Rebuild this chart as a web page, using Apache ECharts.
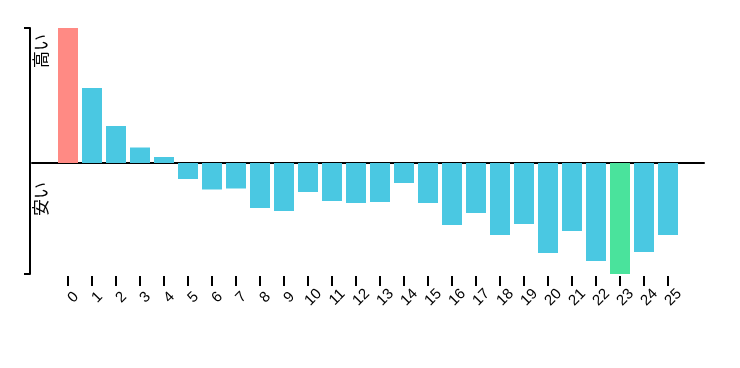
<!DOCTYPE html>
<html>
<head>
<meta charset="utf-8">
<script src="https://cdn.jsdelivr.net/npm/echarts@6/dist/echarts.min.js"></script>
<style>
html,body{margin:0;padding:0;background:#fff;}
#chart{width:740px;height:368px;}
</style>
</head>
<body>
<div id="chart"></div>
<script>
// Data
var categories = ['0','1','2','3','4','5','6','7','8','9','10','11','12','13','14','15','16','17','18','19','20','21','22','23','24','25'];
var values = [135, 75, 37, 15.5, 6, -16, -26.5, -25.5, -45, -48, -29, -38, -40, -39, -20, -40, -62, -50, -72, -61, -90, -68, -98, -111, -89, -72];
var highLabel = '高い';
var lowLabel = '安い';

var colorNormal = '#4ac8e2';
var colorHigh = '#ff8a84';
var colorLow = '#4ae39c';

var maxV = Math.max.apply(null, values);
var minV = Math.min.apply(null, values);

// one empty slot on each side of the category axis
var axisCats = [''].concat(categories).concat(['']);
var barData = [null].concat(values.map(function (v) {
  var c = v === maxV ? colorHigh : (v === minV ? colorLow : colorNormal);
  return { value: v, itemStyle: { color: c } };
})).concat([null]);

var chart = echarts.init(document.getElementById('chart'), null, { renderer: 'canvas' });
chart.setOption({
  animation: false,
  grid: { left: 32, right: 36, top: 28, bottom: 94, containLabel: false },
  xAxis: [
    {
      type: 'category',
      data: axisCats,
      position: 'bottom',
      offset: 2,
      axisLine: { show: false, onZero: false },
      axisTick: {
        show: true,
        alignWithLabel: true,
        length: 10,
        interval: function (idx) { return idx > 0 && idx < axisCats.length - 1; },
        lineStyle: { color: '#000', width: 2 }
      },
      axisLabel: {
        interval: 0,
        rotate: 45,
        align: 'center',
        verticalAlign: 'top',
        margin: 16,
        color: '#000',
        fontSize: 15,
        fontFamily: 'Liberation Sans, Arial, sans-serif'
      },
      splitLine: { show: false }
    },
    {
      type: 'category',
      data: axisCats,
      position: 'top',
      axisLine: { show: true, onZero: true, lineStyle: { color: '#000', width: 2 } },
      axisTick: { show: false },
      axisLabel: { show: false },
      splitLine: { show: false }
    }
  ],
  yAxis: {
    type: 'value',
    min: minV,
    max: maxV,
    offset: 2,
    axisLine: { show: true, lineStyle: { color: '#000', width: 2 } },
    axisTick: { show: true, length: 6, customValues: [minV, maxV], lineStyle: { color: '#000', width: 2 } },
    axisLabel: { show: false },
    splitLine: { show: false }
  },
  graphic: [
    {
      type: 'text', x: 41, y: 51, rotation: Math.PI / 2,
      style: { text: highLabel, fill: '#000', font: '17px "Noto Sans CJK JP"', textAlign: 'center', textVerticalAlign: 'middle' }
    },
    {
      type: 'text', x: 41, y: 199, rotation: Math.PI / 2,
      style: { text: lowLabel, fill: '#000', font: '17px "Noto Sans CJK JP"', textAlign: 'center', textVerticalAlign: 'middle' }
    }
  ],
  series: [{
    type: 'bar',
    xAxisIndex: 0,
    data: barData,
    barWidth: 20,
    silent: true
  }]
});
</script>
</body>
</html>
